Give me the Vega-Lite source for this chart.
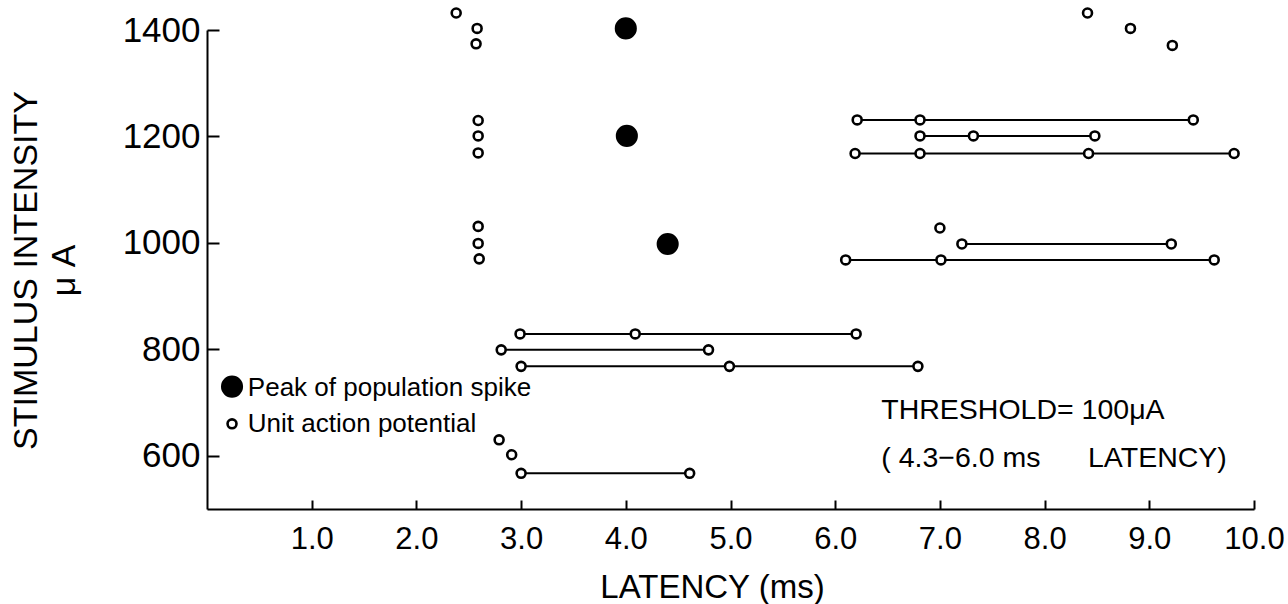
{
  "$schema": "https://vega.github.io/schema/vega-lite/v6.json",
  "width": 1047,
  "height": 479,
  "autosize": {"type": "none"},
  "padding": {"left": 207, "top": 30, "right": 34, "bottom": 95},
  "background": "white",
  "config": {
    "view": {"stroke": null},
    "font": "Liberation Sans",
    "axis": {"grid": false, "domainColor": "black", "domainWidth": 2, "tickColor": "black", "tickWidth": 2, "labelColor": "black", "titleColor": "black", "labelFont": "Liberation Sans", "titleFont": "Liberation Sans", "titleFontWeight": "normal"}
  },
  "resolve": {"axis": {"x": "independent", "y": "independent"}},
  "data": {"values": [
    {"latency": 4.0, "intensity": 1403, "kind": "Peak of population spike", "row": "p1"},
    {"latency": 4.01, "intensity": 1201, "kind": "Peak of population spike", "row": "p2"},
    {"latency": 4.40, "intensity": 998, "kind": "Peak of population spike", "row": "p3"},
    {"latency": 2.38, "intensity": 1432, "kind": "Unit action potential", "row": "r1"},
    {"latency": 2.58, "intensity": 1403, "kind": "Unit action potential", "row": "r2"},
    {"latency": 2.57, "intensity": 1374, "kind": "Unit action potential", "row": "r3"},
    {"latency": 2.59, "intensity": 1230, "kind": "Unit action potential", "row": "r4"},
    {"latency": 2.59, "intensity": 1201, "kind": "Unit action potential", "row": "r5"},
    {"latency": 2.59, "intensity": 1169, "kind": "Unit action potential", "row": "r6"},
    {"latency": 2.59, "intensity": 1031, "kind": "Unit action potential", "row": "r7"},
    {"latency": 2.59, "intensity": 999, "kind": "Unit action potential", "row": "r8"},
    {"latency": 2.60, "intensity": 970, "kind": "Unit action potential", "row": "r9"},
    {"latency": 8.41, "intensity": 1432, "kind": "Unit action potential", "row": "r10"},
    {"latency": 8.82, "intensity": 1403, "kind": "Unit action potential", "row": "r11"},
    {"latency": 9.22, "intensity": 1371, "kind": "Unit action potential", "row": "r12"},
    {"latency": 6.21, "intensity": 1231, "kind": "Unit action potential", "row": "r13"},
    {"latency": 6.81, "intensity": 1231, "kind": "Unit action potential", "row": "r13"},
    {"latency": 9.42, "intensity": 1231, "kind": "Unit action potential", "row": "r13"},
    {"latency": 6.81, "intensity": 1201, "kind": "Unit action potential", "row": "r14"},
    {"latency": 7.32, "intensity": 1201, "kind": "Unit action potential", "row": "r14"},
    {"latency": 8.48, "intensity": 1201, "kind": "Unit action potential", "row": "r14"},
    {"latency": 6.19, "intensity": 1168, "kind": "Unit action potential", "row": "r15"},
    {"latency": 6.81, "intensity": 1168, "kind": "Unit action potential", "row": "r15"},
    {"latency": 8.42, "intensity": 1168, "kind": "Unit action potential", "row": "r15"},
    {"latency": 9.81, "intensity": 1168, "kind": "Unit action potential", "row": "r15"},
    {"latency": 7.00, "intensity": 1028, "kind": "Unit action potential", "row": "r16"},
    {"latency": 7.21, "intensity": 998, "kind": "Unit action potential", "row": "r17"},
    {"latency": 9.21, "intensity": 998, "kind": "Unit action potential", "row": "r17"},
    {"latency": 6.10, "intensity": 968, "kind": "Unit action potential", "row": "r18"},
    {"latency": 7.01, "intensity": 968, "kind": "Unit action potential", "row": "r18"},
    {"latency": 9.62, "intensity": 968, "kind": "Unit action potential", "row": "r18"},
    {"latency": 2.99, "intensity": 829, "kind": "Unit action potential", "row": "r19"},
    {"latency": 4.09, "intensity": 829, "kind": "Unit action potential", "row": "r19"},
    {"latency": 6.20, "intensity": 829, "kind": "Unit action potential", "row": "r19"},
    {"latency": 2.81, "intensity": 799, "kind": "Unit action potential", "row": "r20"},
    {"latency": 4.79, "intensity": 799, "kind": "Unit action potential", "row": "r20"},
    {"latency": 3.00, "intensity": 768, "kind": "Unit action potential", "row": "r21"},
    {"latency": 4.99, "intensity": 768, "kind": "Unit action potential", "row": "r21"},
    {"latency": 6.79, "intensity": 768, "kind": "Unit action potential", "row": "r21"},
    {"latency": 2.79, "intensity": 630, "kind": "Unit action potential", "row": "r22"},
    {"latency": 2.91, "intensity": 602, "kind": "Unit action potential", "row": "r23"},
    {"latency": 3.00, "intensity": 567, "kind": "Unit action potential", "row": "r24"},
    {"latency": 4.61, "intensity": 567, "kind": "Unit action potential", "row": "r24"}
  ]},
  "layer": [
    {
      "transform": [{"filter": "datum.kind === 'Unit action potential'"}],
      "mark": {"type": "line", "color": "black", "strokeWidth": 2},
      "encoding": {
        "x": {"field": "latency", "type": "quantitative",
          "scale": {"domain": [0, 10], "nice": false, "zero": false},
          "axis": {"orient": "bottom", "offset": -9, "tickSize": 9, "ticks": true, "domain": false, "labels": false, "title": null, "values": [1, 2, 3, 4, 5, 6, 7, 8, 9, 10]}},
        "y": {"field": "intensity", "type": "quantitative",
          "scale": {"domain": [500, 1400], "nice": false, "zero": false},
          "axis": {"orient": "left", "offset": -12, "tickSize": 12, "ticks": true, "domain": false, "labels": false, "title": null, "values": [600, 800, 1000, 1200, 1400]}},
        "detail": {"field": "row", "type": "nominal"}
      }
    },
    {
      "mark": {"type": "circle", "stroke": "black", "strokeWidth": 2.6, "opacity": 1},
      "encoding": {
        "x": {"field": "latency", "type": "quantitative",
          "scale": {"domain": [0, 10], "nice": false, "zero": false},
          "axis": {"orient": "bottom", "values": [1, 2, 3, 4, 5, 6, 7, 8, 9, 10], "format": ".1f", "ticks": false, "labelPadding": 15, "labelFontSize": 31, "title": "LATENCY (ms)", "titleFontSize": 33, "titleX": 505, "titleY": 62, "titleBaseline": "top", "labelFlush": false}},
        "y": {"field": "intensity", "type": "quantitative",
          "scale": {"domain": [500, 1400], "nice": false, "zero": false},
          "axis": {"orient": "left", "values": [600, 800, 1000, 1200, 1400], "format": "d", "ticks": false, "labelPadding": 7, "labelFontSize": 35, "title": ["STIMULUS INTENSITY", "μ A"], "titleFontSize": 34, "titleAngle": -90, "titleBaseline": "top", "titleX": -198, "titleY": 240, "titleLineHeight": 38, "labelFlush": false}},
        "fill": {"field": "kind", "type": "nominal", "scale": {"domain": ["Peak of population spike", "Unit action potential"], "range": ["black", "white"]}, "legend": null},
        "size": {"field": "kind", "type": "nominal", "scale": {"type": "ordinal", "domain": ["Peak of population spike", "Unit action potential"], "range": [380, 80]}, "legend": null}
      }
    },
    {
      "data": {"values": [{"kind": "Peak of population spike"}]},
      "mark": {"type": "circle", "stroke": "black", "strokeWidth": 2.6, "opacity": 1},
      "encoding": {
        "x": {"datum": 0.239, "type": "quantitative", "scale": {"domain": [0, 10], "nice": false, "zero": false}, "axis": null},
        "y": {"datum": 730, "type": "quantitative", "scale": {"domain": [500, 1400], "nice": false, "zero": false}, "axis": null},
        "fill": {"field": "kind", "type": "nominal", "scale": {"domain": ["Peak of population spike", "Unit action potential"], "range": ["black", "white"]}, "legend": null},
        "size": {"field": "kind", "type": "nominal", "scale": {"type": "ordinal", "domain": ["Peak of population spike", "Unit action potential"], "range": [380, 80]}, "legend": null}
      }
    },
    {
      "data": {"values": [{"kind": "Unit action potential"}]},
      "mark": {"type": "circle", "stroke": "black", "strokeWidth": 2.6, "opacity": 1},
      "encoding": {
        "x": {"datum": 0.239, "type": "quantitative", "scale": {"domain": [0, 10], "nice": false, "zero": false}, "axis": null},
        "y": {"datum": 660, "type": "quantitative", "scale": {"domain": [500, 1400], "nice": false, "zero": false}, "axis": null},
        "fill": {"field": "kind", "type": "nominal", "scale": {"domain": ["Peak of population spike", "Unit action potential"], "range": ["black", "white"]}, "legend": null},
        "size": {"field": "kind", "type": "nominal", "scale": {"type": "ordinal", "domain": ["Peak of population spike", "Unit action potential"], "range": [380, 80]}, "legend": null}
      }
    },
    {
      "data": {"values": [{"kind": "Peak of population spike"}]},
      "mark": {"type": "text", "align": "left", "baseline": "middle", "fontSize": 26, "font": "Liberation Sans", "color": "black"},
      "encoding": {
        "x": {"datum": 0.39, "type": "quantitative", "scale": {"domain": [0, 10], "nice": false, "zero": false}, "axis": null},
        "y": {"datum": 728, "type": "quantitative", "scale": {"domain": [500, 1400], "nice": false, "zero": false}, "axis": null},
        "text": {"field": "kind"}
      }
    },
    {
      "data": {"values": [{"kind": "Unit action potential"}]},
      "mark": {"type": "text", "align": "left", "baseline": "middle", "fontSize": 26, "font": "Liberation Sans", "color": "black"},
      "encoding": {
        "x": {"datum": 0.39, "type": "quantitative", "scale": {"domain": [0, 10], "nice": false, "zero": false}, "axis": null},
        "y": {"datum": 659, "type": "quantitative", "scale": {"domain": [500, 1400], "nice": false, "zero": false}, "axis": null},
        "text": {"field": "kind"}
      }
    },
    {
      "data": {"values": [{"note": "THRESHOLD= 100μA"}]},
      "mark": {"type": "text", "align": "left", "baseline": "middle", "fontSize": 28.5, "font": "Liberation Sans", "color": "black"},
      "encoding": {
        "x": {"datum": 6.44, "type": "quantitative", "scale": {"domain": [0, 10], "nice": false, "zero": false}, "axis": null},
        "y": {"datum": 686, "type": "quantitative", "scale": {"domain": [500, 1400], "nice": false, "zero": false}, "axis": null},
        "text": {"field": "note"}
      }
    },
    {
      "data": {"values": [{"note": "( 4.3−6.0 ms\u00a0\u00a0\u00a0\u00a0\u00a0\u00a0LATENCY)"}]},
      "mark": {"type": "text", "align": "left", "baseline": "middle", "fontSize": 28.5, "font": "Liberation Sans", "color": "black"},
      "encoding": {
        "x": {"datum": 6.44, "type": "quantitative", "scale": {"domain": [0, 10], "nice": false, "zero": false}, "axis": null},
        "y": {"datum": 596, "type": "quantitative", "scale": {"domain": [500, 1400], "nice": false, "zero": false}, "axis": null},
        "text": {"field": "note"}
      }
    }
  ]
}
